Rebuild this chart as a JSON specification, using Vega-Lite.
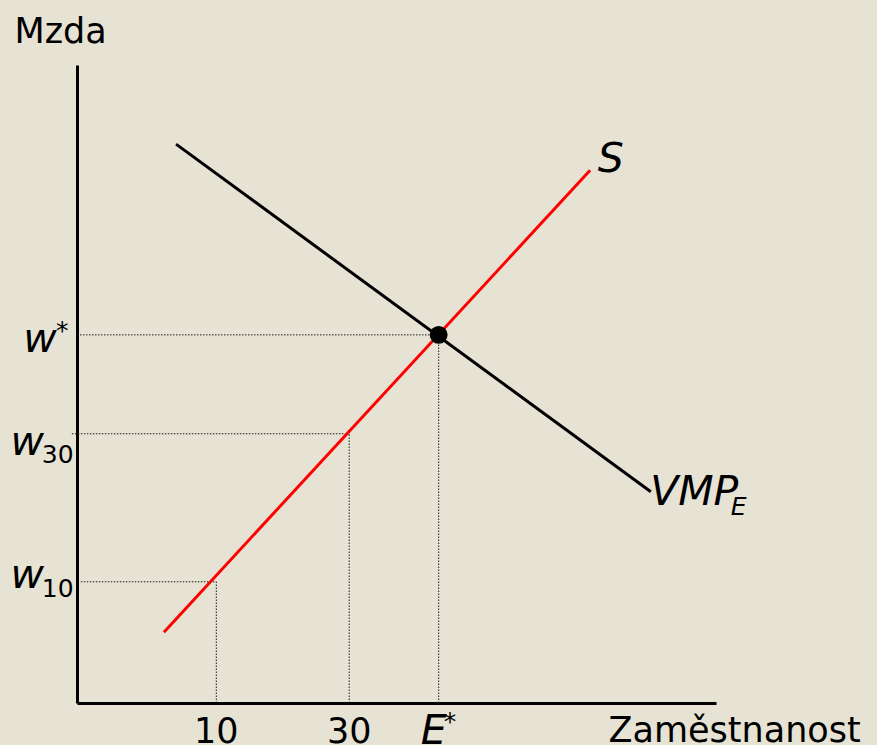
{
  "$schema": "https://vega.github.io/schema/vega-lite/v6.json",
  "width": 639,
  "height": 638,
  "autosize": {"type": "none"},
  "padding": {"left": 77, "top": 65, "right": 161, "bottom": 42},
  "background": "#E6E3D4",
  "config": {
    "view": {"stroke": null},
    "font": "DejaVu Sans"
  },
  "datasets": {
    "curves": [
      {"curve": "S", "x": 13.6, "y": 11.1},
      {"curve": "S", "x": 80.3, "y": 83.5},
      {"curve": "VMP", "x": 15.5, "y": 87.6},
      {"curve": "VMP", "x": 89.8, "y": 33.1}
    ],
    "guides": [
      {"x": 0, "x2": 56.6, "y": 57.7, "y2": 57.7},
      {"x": 56.6, "x2": 56.6, "y": 0, "y2": 57.7},
      {"x": -0.8, "x2": 42.6, "y": 42.2, "y2": 42.2},
      {"x": 42.6, "x2": 42.6, "y": 0, "y2": 42.2},
      {"x": 0.6, "x2": 21.8, "y": 19.0, "y2": 19.0},
      {"x": 21.8, "x2": 21.8, "y": 0, "y2": 19.0}
    ],
    "equilibrium": [{"x": 56.6, "y": 57.7}],
    "bigItalic": [
      {"label": "w", "x": -8.4, "y": 55.0},
      {"label": "w", "x": -10.4, "y": 38.9},
      {"label": "w", "x": -10.4, "y": 18.0},
      {"label": "S", "x": 81.5, "y": 83.2},
      {"label": "VMP", "x": 89.7, "y": 31.0},
      {"label": "E", "x": 53.8, "y": -6.5}
    ],
    "subs": [
      {"label": "30", "x": -5.5, "y": 37.6},
      {"label": "10", "x": -5.5, "y": 16.6}
    ],
    "subItalic": [
      {"label": "E", "x": 102.3, "y": 29.5}
    ],
    "sups": [
      {"label": "*", "x": -3.3, "y": 57.0},
      {"label": "*", "x": 57.4, "y": -4.2}
    ],
    "ticks": [
      {"label": "10", "x": 21.8, "y": -6.3},
      {"label": "30", "x": 42.6, "y": -6.3}
    ]
  },
  "encoding": {
    "x": {"field": "x", "type": "quantitative", "scale": {"domain": [0, 100], "nice": false, "zero": false}},
    "y": {"field": "y", "type": "quantitative", "scale": {"domain": [0, 100], "nice": false, "zero": false}}
  },
  "layer": [
    {
      "data": {"name": "guides"},
      "mark": {"type": "rule", "color": "#1a1a1a", "strokeWidth": 1, "strokeDash": [1.5, 1.5]},
      "encoding": {
        "x": {"field": "x", "type": "quantitative",
          "axis": {"orient": "bottom", "domain": true, "domainColor": "#000000", "domainWidth": 3, "ticks": false, "labels": false, "grid": false,
            "title": "Zaměstnanost", "titleFont": "DejaVu Sans", "titleFontSize": 35, "titleFontWeight": "normal", "titleColor": "#000000",
            "titleX": 531, "titleY": 38, "titleAlign": "left", "titleBaseline": "alphabetic", "titleAnchor": null}},
        "y": {"field": "y", "type": "quantitative",
          "axis": {"orient": "left", "domain": true, "domainColor": "#000000", "domainWidth": 3, "ticks": false, "labels": false, "grid": false,
            "title": "Mzda", "titleFont": "DejaVu Sans", "titleFontSize": 35, "titleFontWeight": "normal", "titleColor": "#000000", "titleAngle": 0,
            "titleX": -63, "titleY": -23, "titleAlign": "left", "titleBaseline": "alphabetic", "titleAnchor": null}},
        "x2": {"field": "x2"},
        "y2": {"field": "y2"}
      }
    },
    {
      "data": {"name": "curves"},
      "mark": {"type": "line", "strokeWidth": 3},
      "encoding": {
        "color": {"field": "curve", "type": "nominal", "scale": {"domain": ["S", "VMP"], "range": ["#FF0000", "#000000"]}, "legend": null}
      }
    },
    {
      "data": {"name": "equilibrium"},
      "mark": {"type": "circle", "size": 320, "color": "#000000", "opacity": 1}
    },
    {
      "data": {"name": "bigItalic"},
      "mark": {"type": "text", "font": "DejaVu Sans", "fontStyle": "italic", "fontSize": 41, "align": "left", "baseline": "alphabetic", "color": "#000000"},
      "encoding": {"text": {"field": "label"}}
    },
    {
      "data": {"name": "subs"},
      "mark": {"type": "text", "font": "DejaVu Sans", "fontSize": 25, "align": "left", "baseline": "alphabetic", "color": "#000000"},
      "encoding": {"text": {"field": "label"}}
    },
    {
      "data": {"name": "subItalic"},
      "mark": {"type": "text", "font": "DejaVu Sans", "fontStyle": "italic", "fontSize": 25, "align": "left", "baseline": "alphabetic", "color": "#000000"},
      "encoding": {"text": {"field": "label"}}
    },
    {
      "data": {"name": "sups"},
      "mark": {"type": "text", "font": "DejaVu Sans", "fontSize": 25, "align": "left", "baseline": "alphabetic", "color": "#000000"},
      "encoding": {"text": {"field": "label"}}
    },
    {
      "data": {"name": "ticks"},
      "mark": {"type": "text", "font": "DejaVu Sans", "fontSize": 35, "align": "center", "baseline": "alphabetic", "color": "#000000"},
      "encoding": {"text": {"field": "label"}}
    }
  ]
}
